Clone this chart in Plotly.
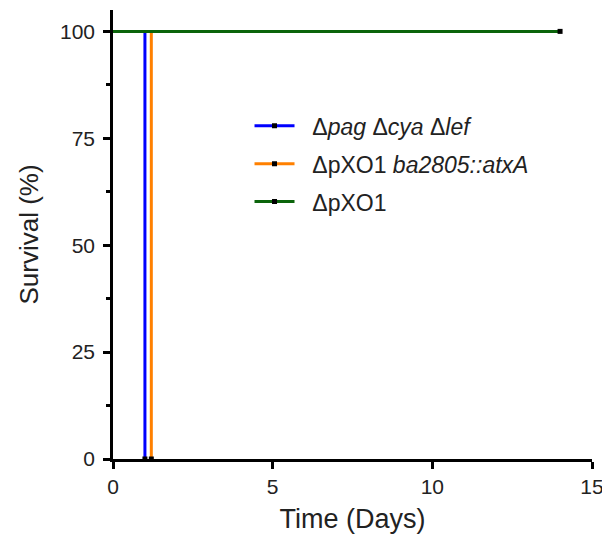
import plotly.graph_objects as go

# Kaplan-Meier style survival data
names = ["Δ<i>pag</i> Δ<i>cya</i> Δ<i>lef</i>", "ΔpXO1 <i>ba2805::atxA</i>", "ΔpXO1"]
colors = ["#0000FF", "#FF8000", "#0B640B"]
x_blue = [0, 1, 1]
y_blue = [100, 100, 0]
x_orange = [0, 1.2, 1.2]
y_orange = [100, 100, 0]
x_green = [0, 14]
y_green = [100, 100]
x_ticks = [0, 5, 10, 15]
y_ticks = [0, 25, 50, 75, 100]

series = [(x_blue, y_blue), (x_orange, y_orange), (x_green, y_green)]

fig = go.Figure()
for (xs, ys), name, col in zip(series, names, colors):
    fig.add_trace(go.Scatter(x=xs, y=ys, mode="lines", line=dict(color=col, width=3),
                             showlegend=False, hoverinfo="skip"))
    # censor / end marker
    fig.add_trace(go.Scatter(x=[xs[-1]], y=[ys[-1]], mode="markers",
                             marker=dict(symbol="square", size=5, color="black"),
                             showlegend=False, cliponaxis=False))
for i, (name, col) in enumerate(zip(names, colors)):
    fig.add_trace(go.Scatter(x=[None], y=[None], mode="lines+markers",
                             name="\u00a0\u00a0" + name,
                             legendgroup=f"g{i}",
                             line=dict(color=col, width=3),
                             marker=dict(symbol="square", size=5, color="black")))

fam = "Liberation Sans, Arial, sans-serif"
fig.update_layout(
    width=602, height=533,
    margin=dict(l=105, r=18, t=2, b=82),
    plot_bgcolor="white", paper_bgcolor="white",
    font=dict(family=fam, size=21, color="#222"),
    legend=dict(x=0.285, y=0.79, xanchor="left", yanchor="top",
                bgcolor="rgba(0,0,0,0)", font=dict(size=23, color="#222"),
                tracegroupgap=5, itemwidth=40),
    xaxis=dict(range=[0, 15], tickvals=x_ticks, showgrid=False, zeroline=False,
               showline=True, linecolor="black", linewidth=2.5,
               ticks="outside", ticklen=7, tickwidth=2.5, tickcolor="black",
               tickfont=dict(size=21, color="#222"),
               title=dict(text="Time (Days)", font=dict(size=27, color="#222"), standoff=13)),
    yaxis=dict(range=[0, 105], tickvals=y_ticks, showgrid=False, zeroline=False,
               showline=True, linecolor="black", linewidth=2.5,
               ticks="outside", ticklen=7, tickwidth=2.5, tickcolor="black",
               tickfont=dict(size=21, color="#222"), ticklabelstandoff=4,
               minor=dict(dtick=12.5, tick0=0, ticks="outside", ticklen=4, tickwidth=2.5,
                          tickcolor="black", showgrid=False),
               title=dict(text="Survival (%)", font=dict(size=26, color="#222"), standoff=14)),
)
fig.write_html("out.html")
